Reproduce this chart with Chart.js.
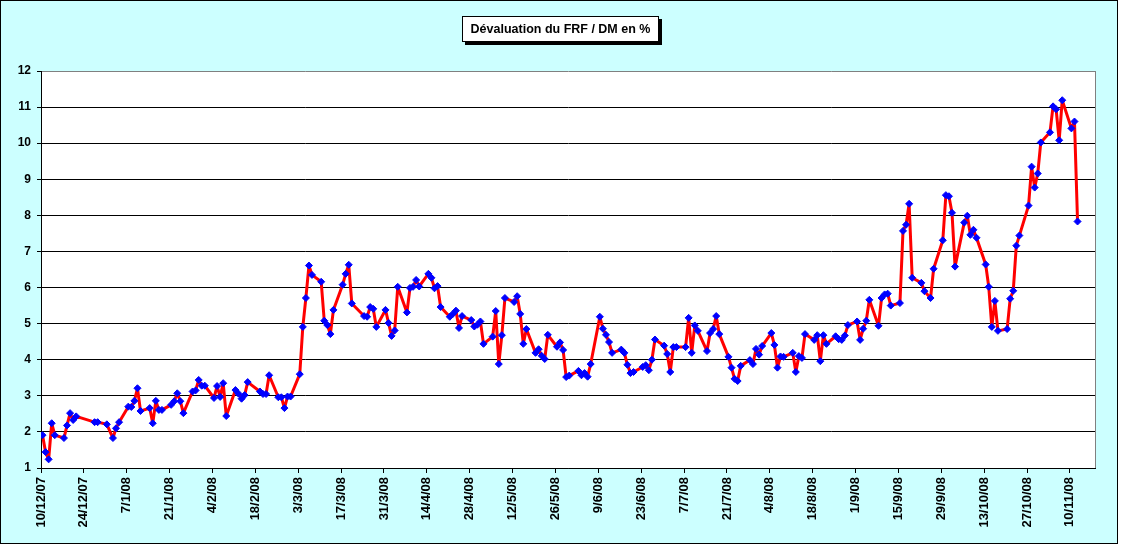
<!DOCTYPE html>
<html>
<head>
<meta charset="utf-8">
<script src="https://cdn.jsdelivr.net/npm/chart.js@4"></script>
<style>
  html, body { margin: 0; padding: 0; background: #ffffff; }
  #frame { position: absolute; left: 0; top: 0; width: 1116px; height: 542px; border: 1px solid #000; background: #CCFFFF; }
  #c { position: absolute; left: 0; top: 0; }
  #title { position: absolute; left: 461px; top: 15px; width: 197px; height: 26px; box-sizing: border-box;
           border: 1px solid #000; background: #fff; box-shadow: 3px 3px 0 #000;
           font: bold 12.5px "Liberation Sans", Arial, sans-serif; line-height: 24px; text-align: center; color: #000; white-space: nowrap; }
</style>
</head>
<body>
<div id="frame">
  <canvas id="c" width="1116" height="542"></canvas>
  <div id="title">Dévaluation du FRF / DM en %</div>
</div>
<script>
// Day offsets counted from 10/12/2007 (trading days)
const dayOffsets = [
  0,1,2,3,4,7,8,9,10,11,17,18,21,23,24,25,28,29,30,31,32,35,36,37,38,39,
  42,43,44,45,46,49,50,51,52,53,56,57,58,59,60,63,64,65,66,67,71,72,73,74,77,78,79,80,81,
  84,85,86,87,88,91,92,93,94,95,98,99,100,101,105,106,107,108,109,112,113,114,115,116,
  119,120,121,122,123,126,127,128,129,130,133,134,135,136,137,140,141,142,143,144,
  147,148,149,150,151,154,155,156,157,158,161,162,163,164,165,168,169,170,171,172,
  175,176,177,178,179,182,183,184,185,186,189,190,191,192,193,196,197,198,199,200,
  203,204,205,206,207,210,211,212,213,214,217,218,219,220,221,224,225,226,227,228,
  231,232,233,234,235,238,239,240,241,242,245,246,247,248,249,252,253,254,255,256,
  259,260,261,262,263,266,267,268,269,270,273,274,275,276,277,280,281,282,283,284,
  287,288,290,291,294,295,296,297,298,301,302,303,304,305,308,309,310,311,312,
  315,316,317,318,319,322,323,324,325,326,329,330,331,332,333,336,337,338
];
// Dévaluation du FRF / DM en %
const values = [
  1.91,1.44,1.24,2.24,1.91,1.83,2.18,2.52,2.33,2.43,2.27,2.27,2.21,1.83,2.10,2.27,2.70,2.69,2.86,3.21,2.58,2.66,2.24,2.86,2.61,2.61,
  2.75,2.85,3.07,2.85,2.52,3.12,3.15,3.44,3.28,3.28,2.94,3.27,2.97,3.35,2.44,3.16,3.06,2.92,3.02,3.38,3.12,3.05,3.05,3.57,2.96,2.96,2.66,2.98,2.98,
  3.60,4.91,5.71,6.61,6.35,6.16,5.08,4.96,4.71,5.38,6.08,6.38,6.63,5.56,5.21,5.19,5.46,5.41,4.91,5.38,5.02,4.66,4.81,6.02,
  5.31,5.99,6.02,6.21,6.03,6.38,6.27,5.98,6.04,5.46,5.19,5.27,5.36,4.88,5.21,5.10,4.92,4.97,5.06,4.44,
  4.64,5.35,3.88,4.68,5.71,5.60,5.76,5.27,4.44,4.85,4.19,4.29,4.11,4.02,4.69,4.36,4.48,4.27,3.52,3.56,
  3.69,3.57,3.63,3.53,3.88,5.19,4.86,4.69,4.49,4.19,4.28,4.19,3.86,3.63,3.66,3.80,3.85,3.71,4.00,4.56,
  4.39,4.16,3.66,4.35,4.35,4.35,5.16,4.19,4.95,4.80,4.24,4.74,4.85,5.21,4.71,4.08,3.78,3.47,3.41,3.83,
  3.99,3.88,4.30,4.14,4.38,4.74,4.41,3.78,4.09,4.08,4.19,3.66,4.10,4.05,4.71,4.55,4.68,3.96,4.68,4.44,
  4.65,4.57,4.55,4.67,4.96,5.06,4.55,4.86,5.08,5.66,4.94,5.71,5.81,5.83,5.50,5.57,7.57,7.74,8.32,6.27,
  6.13,5.90,5.71,6.52,7.31,8.56,8.53,8.07,6.58,7.80,7.99,7.46,7.60,7.38,6.64,6.02,4.91,5.63,4.80,
  4.85,5.69,5.91,7.16,7.44,8.27,9.35,8.77,9.16,10.02,10.30,11.02,10.94,10.08,11.19,10.41,10.60,7.83
];
const tickLabels = ['10/12/07','24/12/07','7/1/08','21/1/08','4/2/08','18/2/08','3/3/08','17/3/08','31/3/08',
  '14/4/08','28/4/08','12/5/08','26/5/08','9/6/08','23/6/08','7/7/08','21/7/08','4/8/08','18/8/08','1/9/08',
  '15/9/08','29/9/08','13/10/08','27/10/08','10/11/08'];
const tickStepDays = 14;
const yTicks = [1,2,3,4,5,6,7,8,9,10,11,12];

// points sit in the middle of their day slot (date axis, "between tick marks")
const points = dayOffsets.map((d, i) => ({ x: d + 0.5, y: values[i] }));

const frameFx = {
  id: 'frameFx',
  beforeDraw(chart) {
    const a = chart.chartArea, ctx = chart.ctx;
    ctx.save();
    ctx.fillStyle = '#ffffff';
    ctx.fillRect(a.left, a.top, a.right - a.left, a.bottom - a.top);
    ctx.restore();
  },
  beforeDatasetsDraw(chart) {
    const a = chart.chartArea, ctx = chart.ctx;
    ctx.save();
    ctx.strokeStyle = '#808080';
    ctx.lineWidth = 1;
    ctx.beginPath();
    ctx.moveTo(Math.round(a.right) + 0.5, a.top);
    ctx.lineTo(Math.round(a.right) + 0.5, a.bottom);
    ctx.stroke();
    ctx.restore();
  }
};

const font = { family: '"Liberation Sans", Arial, sans-serif', weight: 'bold' };

new Chart(document.getElementById('c'), {
  type: 'line',
  data: {
    datasets: [{
      data: points,
      borderColor: '#FF0000',
      borderWidth: 3,
      borderJoinStyle: 'round',
      borderCapStyle: 'round',
      tension: 0,
      fill: false,
      pointStyle: 'rectRot',
      pointRadius: 3.5,
      pointBackgroundColor: '#0000FF',
      pointBorderColor: '#0000FF',
      pointBorderWidth: 1
    }]
  },
  options: {
    responsive: false,
    animation: false,
    devicePixelRatio: 1,
    layout: { padding: { left: 0, top: 70, right: 22, bottom: 0 } },
    plugins: { legend: { display: false }, title: { display: false }, tooltip: { enabled: false } },
    scales: {
      x: {
        type: 'linear',
        min: 0,
        max: 344.2,
        afterBuildTicks: s => { s.ticks = tickLabels.map((_, i) => ({ value: i * tickStepDays })); },
        afterFit: s => { s.height = 75; },
        ticks: {
          autoSkip: false, minRotation: 90, maxRotation: 90, padding: 4, color: '#000',
          font: Object.assign({ size: 13 }, font),
          callback: (v, i) => tickLabels[i]
        },
        grid: { drawOnChartArea: false, drawTicks: true, tickLength: 5, color: '#000' },
        border: { color: '#000', width: 1 }
      },
      y: {
        min: 1,
        max: 12,
        afterBuildTicks: s => { s.ticks = yTicks.map(v => ({ value: v })); },
        afterFit: s => { s.width = 40; },
        ticks: { padding: 6, color: '#000', font: Object.assign({ size: 12 }, font) },
        grid: { color: c => (c.tick && c.tick.value === 12) ? '#808080' : '#000', tickColor: '#000', tickLength: 4, lineWidth: 1 },
        border: { color: '#000', width: 1 }
      }
    }
  },
  plugins: [frameFx]
});
</script>
</body>
</html>
